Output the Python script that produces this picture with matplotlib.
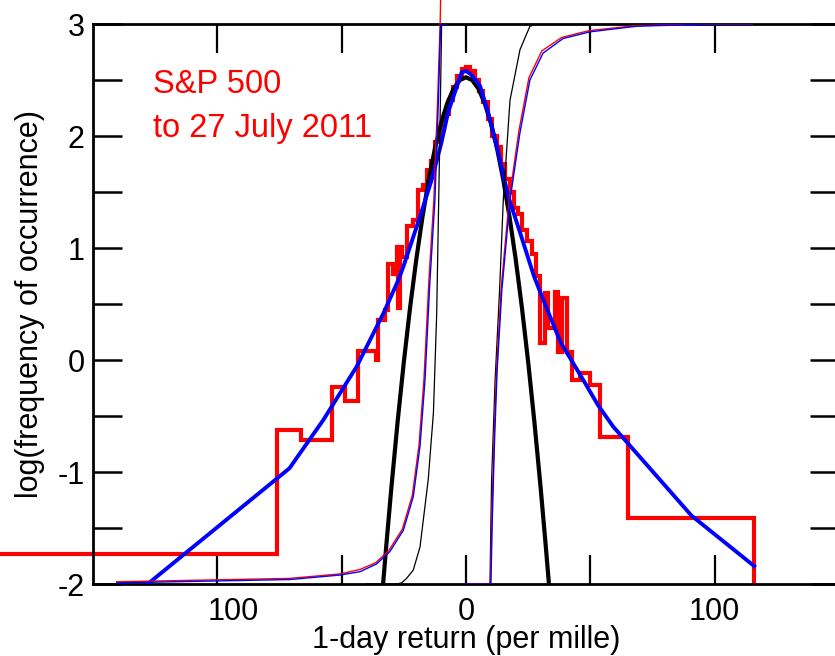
import matplotlib
matplotlib.use("Agg")
import matplotlib.pyplot as plt

plt.rcParams['font.family'] = ['Liberation Sans', 'DejaVu Sans']
plt.rcParams['axes.unicode_minus'] = False

# histogram of 1-day returns: bin edges (per mille) and log10 of counts
hist_edges = [-210, -76.1, -66.3, -53.8, -48.7, -43.6, -36.0, -35.4, -32.6, -31.3,
              -29.3, -27.9, -27.2, -26.6, -25.9, -23.9, -21.5, -19.2, -17.2, -15.8,
              -14.0, -12.3, -10.5, -8.7, -7.0, -5.3, -3.5, -1.8, 0.0, 1.8,
              3.5, 5.3, 7.0, 8.7, 10.5, 12.3, 14.0, 15.8, 17.5, 19.2,
              20.8, 22.4, 24.4, 26.4, 28.0, 29.6, 31.8, 33.0, 35.8, 36.8,
              38.5, 40.5, 42.5, 46.0, 49.9, 53.9, 65.3, 115.9]
hist_logfreq = [-1.73, -0.625, -0.714, -0.238, -0.37, 0.08, 0.0, 0.357, 0.446,
                0.86, 0.77, 1.01, 0.46, 1.01, 0.92, 1.2, 1.25, 1.52, 1.56,
                1.7, 1.78, 1.95, 2.06, 2.2, 2.32, 2.44, 2.54, 2.6, 2.62,
                2.58, 2.5, 2.4, 2.3, 2.15, 2.0, 1.9, 1.75, 1.62, 1.5,
                1.36, 1.3, 1.16, 1.06, 0.95, 0.75, 0.15, 0.6, 0.29, 0.61,
                0.07, 0.55, 0.07, -0.18, -0.12, -0.22, -0.685, -1.41]

# fitted distribution (thick blue)
fit_x = [-128, -71, -57.4, -44, -33.2, -27.2, -25.2, -18.5, -13.8, -10, -7.1, -4,
         -1.7, 0, 2, 5.6, 9, 13, 17, 22, 27.3, 31.1, 38, 47.2, 53, 59.2, 90.7, 115.9]
fit_y = [-2.0, -0.967, -0.536, -0.06, 0.417, 0.714, 0.833, 1.28, 1.61, 1.93, 2.22, 2.42,
         2.57, 2.58, 2.55, 2.45, 2.2, 1.85, 1.46, 1.12, 0.75, 0.536, 0.16, -0.18,
         -0.4, -0.595, -1.39, -1.84]

# gaussian (thick black)
gauss_x = [-33.35, -32, -30, -27.5, -25, -22.5, -20, -17.5, -15, -12.5, -10, -7.5, -5, -2.5,
           0, 2.5, 5, 7.5, 10, 12.5, 15, 17.5, 20, 22.5, 25, 27.5, 30, 32, 33.35]
gauss_y = [-2.0, -1.642, -1.137, -0.552, -0.018, 0.465, 0.897, 1.278, 1.609, 1.888, 2.117,
           2.295, 2.422, 2.499, 2.524, 2.499, 2.422, 2.295, 2.117, 1.888, 1.609, 1.278,
           0.897, 0.465, -0.018, -0.552, -1.137, -1.642, -2.0]

# cumulative curves (thin), rescaled onto the -2..3 axis
cdf_left_x_blue = [-140.5, -70.8, -50.7, -42.6, -35.9, -30.6, -25.2, -21.2, -18.5, -16.5,
                   -14.5, -12.5, -11.1, -10.2, -7.6]
cdf_left_y_blue = [-1.99, -1.96, -1.92, -1.89, -1.82, -1.71, -1.52, -1.22, -0.77, -0.18,
                   0.71, 1.43, 2.32, 3.0, 3.0]
cdf_left_x_red = [-140.5, -70.8, -50.7, -42.6, -36.3, -31.0, -25.6, -21.6, -18.9, -16.9,
                  -14.9, -12.9, -11.4, -10.4, -10.1]
cdf_left_y_red = [-1.98, -1.95, -1.91, -1.87, -1.81, -1.70, -1.51, -1.21, -0.76, -0.17,
                  0.72, 1.44, 2.33, 3.0, 3.35]
cdf_right_x_blue = [0, 10.0, 10.6, 11.5, 12.5, 14.4, 17.7, 21.7, 25.7, 31, 39, 49.8, 68.6, 99.4, 115]
cdf_right_y_blue = [-2, -2, -1.4, -0.7, -0.1, 0.62, 1.43, 2.03, 2.5, 2.74, 2.87, 2.93, 2.98, 3.0, 3.0]
cdf_right_x_red = [0, 9.8, 10.4, 11.3, 12.3, 14.1, 17.4, 21.3, 25.3, 30.5, 38.5, 49.3, 68, 99, 115]
cdf_right_y_red = [-2, -2, -1.39, -0.69, -0.09, 0.63, 1.44, 2.05, 2.52, 2.76, 2.88, 2.94, 2.985, 3.0, 3.0]
gcdf_left_x = [-40, -28, -25.9, -23.9, -21.2, -18.5, -15.2, -13.1, -11.8, -10.5, -9.8, -8]
gcdf_left_y = [-2, -2, -1.99, -1.95, -1.875, -1.67, -1.07, -0.47, 0.4, 2.03, 3.0, 3.0]
gcdf_right_x = [0, 9.65, 9.9, 10.3, 11.7, 13.5, 15.0, 17.7, 21.7, 25.7, 28.4, 40]
gcdf_right_y = [-2, -2, -1.6, -1.07, -0.18, 0.62, 1.43, 2.32, 2.77, 2.98, 3.0, 3.0]

xtick_marks = [-100, -50, 0, 50, 100]
xlabel_pos = [-93.5, 0, 100]
xlabel_txt = ['100', '0', '100']
ytick_pos = [-2, -1.5, -1, -0.5, 0, 0.5, 1, 1.5, 2, 2.5, 3]
ytick_txt = ['-2', '', '-1', '', '0', '', '1', '', '2', '', '3']

RED = '#ff0000'
BLUE = '#0000ff'

fig = plt.figure(figsize=(8.35, 6.56), dpi=100)
ax = fig.add_axes((93 / 835, 72 / 656, 746 / 835, 560 / 656))

ax.stairs(hist_logfreq, hist_edges, baseline=-2.0, color=RED, lw=3.0,
          clip_on=False, zorder=2, joinstyle='miter')
ax.plot(gauss_x, gauss_y, color='black', lw=3.0, zorder=3)
ax.plot(fit_x, fit_y, color=BLUE, lw=2.8, zorder=4)

ax.plot(gcdf_left_x, gcdf_left_y, color='black', lw=0.9, zorder=5)
ax.plot(gcdf_right_x, gcdf_right_y, color='black', lw=0.9, zorder=5)
ax.plot(cdf_left_x_red, cdf_left_y_red, color=RED, lw=1.0, zorder=5, clip_on=False)
ax.plot(cdf_right_x_red, cdf_right_y_red, color=RED, lw=1.0, zorder=5)
ax.plot(cdf_left_x_blue, cdf_left_y_blue, color=BLUE, lw=1.0, zorder=6)
ax.plot(cdf_right_x_blue, cdf_right_y_blue, color=BLUE, lw=1.0, zorder=6)

ax.set_xlim(-150, 150)
ax.set_ylim(-2, 3)

ax.xaxis.remove_overlapping_locs = False
ax.set_xticks(xtick_marks, [''] * len(xtick_marks), minor=True)
ax.set_xticks(xlabel_pos, xlabel_txt)
ax.set_yticks(ytick_pos, ytick_txt)

ax.tick_params(axis='x', which='major', length=0, labelsize=22, pad=9)
ax.tick_params(axis='x', which='minor', direction='in', length=21, width=1.6,
               top=True, bottom=True)
ax.tick_params(axis='y', which='major', direction='in', length=21, width=1.8,
               left=True, right=True, labelsize=22, pad=6)

for s in ax.spines.values():
    s.set_linewidth(2.0)

ax.text(-125.9, 2.387, 'S&P 500', color=RED, fontsize=23.5, va='baseline', ha='left')
ax.text(-125.9, 1.994, 'to 27 July 2011', color=RED, fontsize=23.5, va='baseline', ha='left')

fig.text(30 / 835, 1 - 304 / 656, 'log(frequency of occurrence)', rotation=90,
         ha='center', va='center', fontsize=22)
fig.text(466 / 835, 1 - 648 / 656, '1-day return (per mille)', ha='center',
         va='baseline', fontsize=22)

fig.savefig('out.png', dpi=100)
